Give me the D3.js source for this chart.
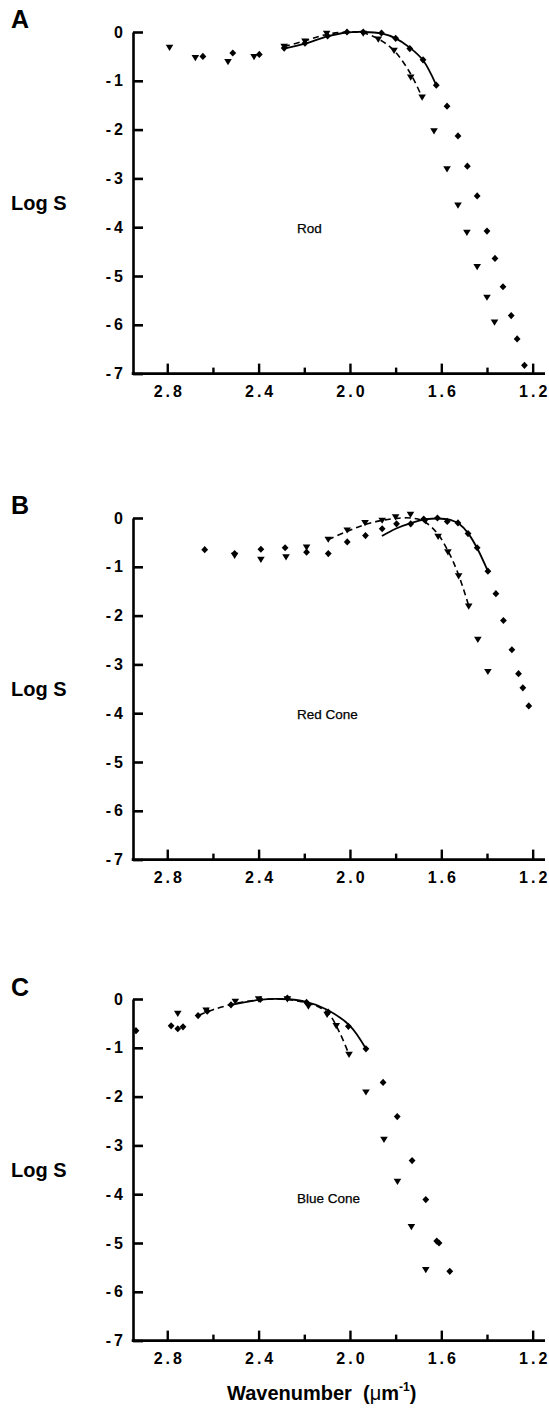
<!DOCTYPE html>
<html><head><meta charset="utf-8">
<script src="https://cdn.jsdelivr.net/npm/d3@7"></script>
<style>
body{margin:0;background:#fff;overflow:hidden;}
svg{display:block;font-family:"Liberation Sans",Arial,Helvetica,sans-serif;}
</style></head>
<body><svg id="c" width="549" height="1418"></svg>
<script>
// ---------- data ----------
const panelLetters = ["A","B","C"];
const panelNames = ["Rod","Red Cone","Blue Cone"];
const yTicks = [0,-1,-2,-3,-4,-5,-6,-7];
const xMajorTicks = [2.8,2.4,2.0,1.6,1.2];
const xMinorTicks = [2.6,2.2,1.8,1.4];

const rodDiamonds = [[2.644,-0.50],[2.513,-0.43],[2.397,-0.46],[2.288,-0.33],[2.197,-0.23],[2.098,-0.08],[2.013,0.0],[1.942,0.0],[1.862,-0.02],[1.80,-0.13],[1.738,-0.34],[1.68,-0.57],[1.622,-1.09],[1.575,-1.52],[1.527,-2.13],[1.486,-2.75],[1.443,-3.36],[1.40,-4.08],[1.365,-4.64],[1.33,-5.22],[1.294,-5.81],[1.268,-6.29],[1.236,-6.83]];
const rodTriangles = [[2.79,-0.32],[2.677,-0.53],[2.534,-0.61],[2.42,-0.51],[2.288,-0.30],[2.197,-0.19],[2.102,-0.03],[1.942,-0.03],[1.876,-0.15],[1.807,-0.38],[1.734,-0.93],[1.684,-1.34],[1.632,-2.03],[1.575,-2.81],[1.527,-3.55],[1.488,-4.11],[1.443,-4.81],[1.40,-5.44],[1.367,-5.95]];
const rodSolid = [[2.288,-0.34],[2.197,-0.24],[2.098,-0.09],[2.013,-0.01],[1.942,0.0],[1.862,-0.03],[1.80,-0.13],[1.738,-0.32],[1.68,-0.58],[1.622,-1.09]];
const rodDashed = [[2.288,-0.30],[2.197,-0.18],[2.102,-0.05],[2.013,0.0],[1.942,-0.02],[1.876,-0.14],[1.807,-0.38],[1.734,-0.86],[1.684,-1.34]];

const redDiamonds = [[2.636,-0.65],[2.505,-0.73],[2.39,-0.64],[2.284,-0.61],[2.19,-0.70],[2.095,-0.73],[2.012,-0.49],[1.932,-0.36],[1.859,-0.22],[1.796,-0.12],[1.734,-0.12],[1.677,-0.02],[1.617,0.0],[1.574,-0.07],[1.527,-0.10],[1.483,-0.32],[1.443,-0.61],[1.396,-1.09],[1.361,-1.55],[1.328,-2.10],[1.291,-2.70],[1.262,-3.19],[1.243,-3.48],[1.217,-3.85]];
const redTriangles = [[2.505,-0.77],[2.39,-0.85],[2.28,-0.80],[2.19,-0.60],[2.095,-0.44],[2.012,-0.25],[1.934,-0.10],[1.859,-0.05],[1.80,0.02],[1.735,0.07],[1.67,-0.06],[1.614,-0.38],[1.571,-0.70],[1.524,-1.19],[1.48,-1.81],[1.44,-2.49],[1.396,-3.15]];
const redSolid = [[1.86,-0.37],[1.80,-0.22],[1.73,-0.10],[1.67,-0.03],[1.617,-0.01],[1.56,-0.04],[1.52,-0.13],[1.483,-0.31],[1.443,-0.62],[1.396,-1.09]];
const redDashed = [[2.095,-0.44],[2.01,-0.27],[1.93,-0.13],[1.86,-0.05],[1.80,-0.01],[1.735,0.0],[1.68,-0.06],[1.62,-0.30],[1.57,-0.68],[1.524,-1.17],[1.48,-1.80]];

const blueDiamonds = [[2.937,-0.65],[2.783,-0.55],[2.754,-0.61],[2.731,-0.57],[2.665,-0.34],[2.625,-0.25],[2.521,-0.12],[2.393,-0.01],[2.274,0.02],[2.19,-0.07],[2.095,-0.27],[2.007,-0.56],[1.93,-1.02],[1.855,-1.71],[1.793,-2.41],[1.728,-3.31],[1.668,-4.11],[1.62,-4.96],[1.61,-5.0],[1.563,-5.58]];
const blueTriangles = [[2.754,-0.30],[2.63,-0.23],[2.502,-0.05],[2.40,0.0],[2.274,0.0],[2.182,-0.15],[2.10,-0.32],[2.06,-0.55],[2.004,-1.14],[1.93,-1.91],[1.851,-2.88],[1.792,-3.74],[1.731,-4.67],[1.668,-5.55]];
const blueSolid = [[2.52,-0.12],[2.4,-0.02],[2.3,0.0],[2.2,-0.05],[2.1,-0.22],[2.0,-0.55],[1.93,-1.02]];
const blueDashed = [[2.66,-0.33],[2.6,-0.22],[2.5,-0.09],[2.4,-0.02],[2.3,0.0],[2.2,-0.07],[2.13,-0.18],[2.09,-0.32],[2.044,-0.70],[2.004,-1.14]];

const panelDiamonds = [rodDiamonds, redDiamonds, blueDiamonds];
const panelTriangles = [rodTriangles, redTriangles, blueTriangles];
const panelSolid = [rodSolid, redSolid, blueSolid];
const panelDashed = [rodDashed, redDashed, blueDashed];

// ---------- layout ----------
const svg = d3.select("#c");
const tops = [32, 518, 999];
const plotH = 341.6;
const left = 133, right = 545;
const x = d3.scaleLinear().domain([2.95, 1.146]).range([left, right]);

const diamondPath = "M0,-3.6L3.4,0L0,3.6L-3.4,0Z";
const trianglePath = "M-3.8,-2.8L3.8,-2.8L0,3.4Z";

panelLetters.forEach((letter, i) => {
  const y0 = tops[i];
  const y = d3.scaleLinear().domain([0, -7]).range([y0, y0 + plotH]);
  const g = svg.append("g");

  g.append("text").attr("x", 11).attr("y", y0 - 3 + (i === 2 ? 0 : -1))
    .attr("font-size", 25).attr("font-weight", "bold").text(letter);
  g.append("text").attr("x", 11).attr("y", y0 + 178)
    .attr("font-size", 20).attr("font-weight", "bold").text("Log S");
  g.append("text").attr("x", 297).attr("y", y0 + 201 + (i === 2 ? 3 : 0))
    .attr("font-size", 13.5).attr("stroke", "#000").attr("stroke-width", 0.25)
    .text(panelNames[i]);

  const ya = g.append("g").attr("transform", `translate(${left},0)`)
    .call(d3.axisLeft(y).tickValues(yTicks).tickSizeInner(-10).tickSizeOuter(0).tickPadding(10)
      .tickFormat(d => d === 0 ? "0" : "-" + Math.abs(d)));
  ya.select(".domain").attr("stroke", "#000").attr("stroke-width", 2.6);
  ya.selectAll(".tick line").attr("stroke", "#000").attr("stroke-width", 2.6);
  ya.selectAll(".tick text").attr("font-size", 16).attr("font-weight", "bold")
    .attr("fill", "#000").attr("font-family", "Liberation Sans, Arial, sans-serif")
    .style("letter-spacing", "3px").attr("dx", 3);

  const yb = y0 + plotH;
  const xa = g.append("g").attr("transform", `translate(0,${yb})`)
    .call(d3.axisBottom(x).tickValues(xMajorTicks).tickSizeInner(-10).tickSizeOuter(0).tickPadding(12)
      .tickFormat(d3.format(".1f")));
  xa.select(".domain").attr("stroke", "#000").attr("stroke-width", 2.6)
    .attr("d", `M${left - 1.3},0H${right}`);
  xa.selectAll(".tick line").attr("stroke", "#000").attr("stroke-width", 2.4);
  xa.selectAll(".tick text").attr("font-size", 16).attr("font-weight", "bold")
    .attr("fill", "#000").attr("font-family", "Liberation Sans, Arial, sans-serif")
    .style("letter-spacing", "3px").attr("dx", 1.5);
  const xm = g.append("g").attr("transform", `translate(0,${yb})`)
    .call(d3.axisBottom(x).tickValues(xMinorTicks).tickSizeInner(-6).tickSizeOuter(0).tickFormat(""));
  xm.select(".domain").remove();
  xm.selectAll(".tick line").attr("stroke", "#000").attr("stroke-width", 2.4);

  const line = d3.line().x(d => x(d[0])).y(d => y(d[1])).curve(d3.curveCatmullRom.alpha(0.5));
  g.append("path").attr("d", line(panelSolid[i])).attr("fill", "none")
    .attr("stroke", "#000").attr("stroke-width", 1.8);
  g.append("path").attr("d", line(panelDashed[i])).attr("fill", "none")
    .attr("stroke", "#000").attr("stroke-width", 1.6).attr("stroke-dasharray", "6,4");

  g.selectAll(".dm").data(panelDiamonds[i]).join("path").attr("class", "dm")
    .attr("d", diamondPath).attr("fill", "#000")
    .attr("transform", d => `translate(${x(d[0])},${y(d[1])})`);
  g.selectAll(".tr").data(panelTriangles[i]).join("path").attr("class", "tr")
    .attr("d", trianglePath).attr("fill", "#000")
    .attr("transform", d => `translate(${x(d[0])},${y(d[1])})`);
});

const title = svg.append("text").attr("x", 227).attr("y", 1400)
  .attr("font-size", 20).attr("font-weight", "bold").style("white-space", "pre");
title.append("tspan").text("Wavenumber  (");
title.append("tspan").attr("font-weight", "normal").text("\u03bc");
title.append("tspan").text("m");
title.append("tspan").attr("dy", -9).attr("font-size", 12).text("-1");
title.append("tspan").attr("dy", 9).text(")");
</script></body></html>
